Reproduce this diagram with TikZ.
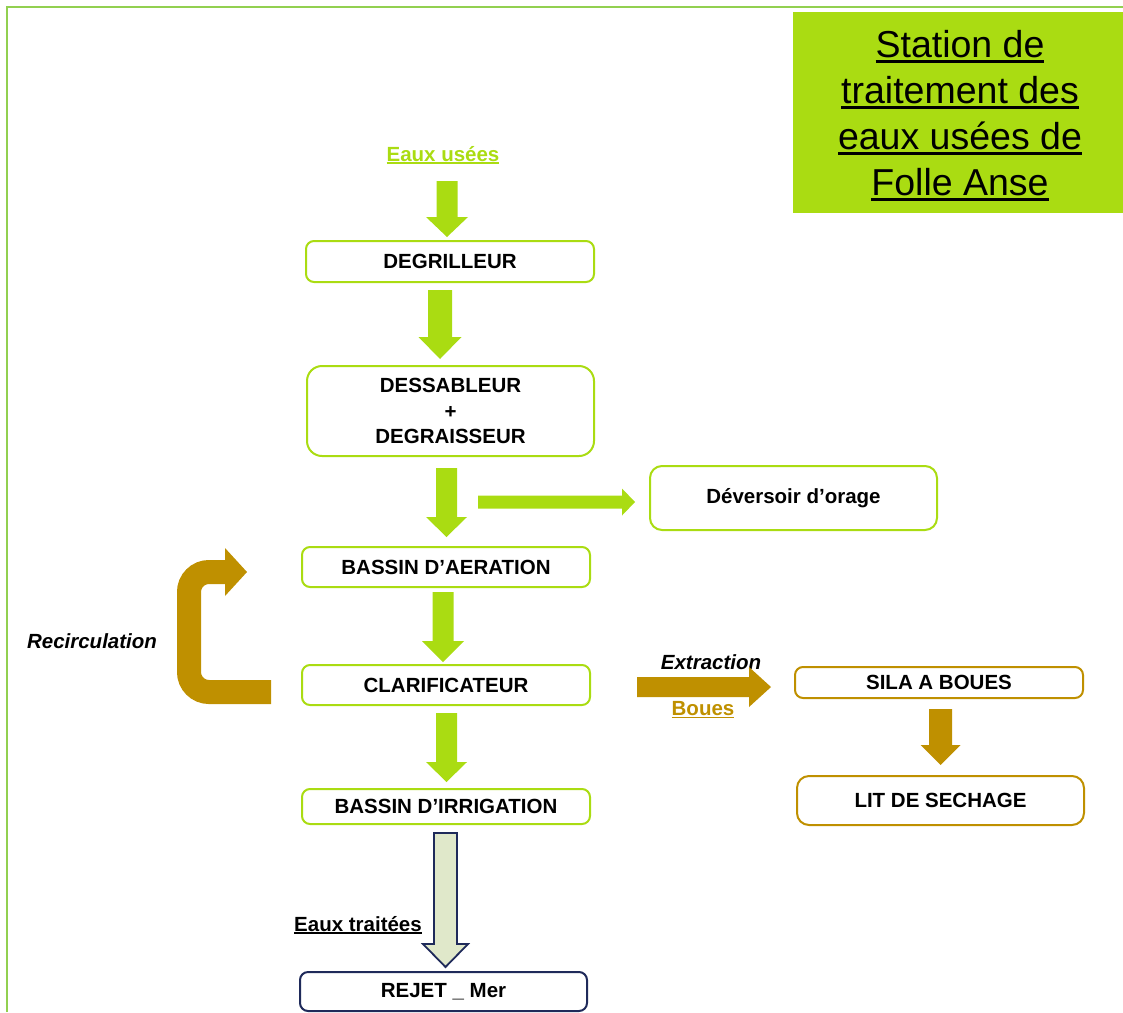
\documentclass[tikz,border=0pt]{standalone}
\usepackage{fontspec}
\setmainfont{Liberation Sans}
\usetikzlibrary{calc}
\definecolor{lime}{RGB}{170,220,18}
\definecolor{framegreen}{RGB}{146,208,80}
\definecolor{gold}{RGB}{191,144,0}
\definecolor{navy}{RGB}{31,42,90}
\definecolor{pale}{RGB}{224,232,202}
\newcommand\myul[1]{\setbox0=\hbox{#1}\rlap{\rule[-0.13em]{\wd0}{0.07em}}\box0}
\newcommand\dnblock[6][]{%
  \path[#1] let \p1=(#2), \p2=(#3) in
  (\x1-#4,\y1) -- (\x1+#4,\y1) -- (\x1+#4,\y2+#6) -- (\x1+#5,\y2+#6) -- (\x1,\y2)
  -- (\x1-#5,\y2+#6) -- (\x1-#4,\y2+#6) -- cycle;}
\newcommand\rtblock[6][]{%
  \path[#1] let \p1=(#2), \p2=(#3) in
  (\x1,\y1+#4) -- (\x2-#6,\y1+#4) -- (\x2-#6,\y1+#5) -- (\x2,\y1) -- (\x2-#6,\y1-#5)
  -- (\x2-#6,\y1-#4) -- (\x1,\y1-#4) -- cycle;}
\begin{document}
\begin{tikzpicture}[x=1pt,y=-1pt,
  boxtext/.style={font=\bfseries\fontsize{20.5}{25.5}\selectfont, align=center},
  box/.style={boxtext, draw=lime, line width=2pt, rounded corners=8pt, fill=white, inner sep=0pt},
  goldbox/.style={box, draw=gold},
  navybox/.style={box, draw=navy},
  lbl/.style={font=\bfseries\fontsize{20.5}{25}\selectfont, inner sep=0pt},
  ilbl/.style={font=\bfseries\itshape\fontsize{20.5}{25}\selectfont, inner sep=0pt},
  limearrow/.style={fill=lime},
  goldarrow/.style={fill=gold},
  palearrow/.style={fill=pale, draw=navy, line width=1.8pt, line join=miter}]
\useasboundingbox (0,0) rectangle (1123,1012);
\draw[framegreen, line width=1.5pt] (7,1012) -- (7,7) -- (1123,7);

% title
\node[fill=lime, minimum width=330pt, minimum height=201pt, inner sep=0pt] (title) at (958,112.5) {};
\node[align=center, inner sep=0pt, font=\fontsize{37.5}{46}\selectfont] (titletext)
  at ($(title.center)+(2,3)$)
  {\myul{Station de}\\\myul{traitement des}\\\myul{eaux usées de}\\\myul{Folle Anse}};

% nodes
\node[box, minimum width=288pt, minimum height=41pt] (deg) at (450,261.5) {DEGRILLEUR};
\node[box, rounded corners=15pt, minimum width=287pt, minimum height=90pt] (dess) at (450.5,411) {DESSABLEUR\\+\\DEGRAISSEUR};
\node[box, rounded corners=12pt, minimum width=287pt, minimum height=64pt] (dev) at (793.5,498) {Déversoir d’orage};
\node[box, minimum width=288pt, minimum height=40pt] (aer) at (446,567) {BASSIN D’AERATION};
\node[box, minimum width=288pt, minimum height=40pt] (clar) at (446,685) {CLARIFICATEUR};
\node[box, minimum width=288pt, minimum height=35pt] (irr) at (446,806.5) {BASSIN D’IRRIGATION};
\node[navybox, minimum width=287pt, minimum height=39pt] (rejet) at (443.5,991.5) {REJET \_ Mer};
\node[goldbox, minimum width=288pt, minimum height=31pt] (sila) at (939,682.5) {SILA A BOUES};
\node[goldbox, rounded corners=12pt, minimum width=287pt, minimum height=49pt] (lit) at (940.5,800.5) {LIT DE SECHAGE};

% labels
\node[lbl, text=lime] (eaux) at (443,155) {\myul{Eaux usées}};
\node[ilbl] (recl) at (92,641) {Recirculation};
\node[ilbl] (extl) at (711,662) {Extraction};
\node[lbl, text=gold] (boues) at (703,710) {\myul{Boues}};
\node[lbl] (trait) at (358,925) {\myul{Eaux traitées}};

% arrow end points
\coordinate (a1s) at ($(deg.north)+(-3,-59)$);
\coordinate (a1e) at ($(deg.north)+(-3,-3)$);
\coordinate (a2s) at ($(deg.south)+(-10,7)$);
\coordinate (a2e) at ($(dess.north)+(-10.5,-6)$);
\coordinate (a3s) at ($(dess.south)+(-4,11)$);
\coordinate (a3e) at ($(aer.north)+(0.5,-9)$);
\coordinate (dvs) at ($(dess.south)+(27.5,45)$);
\coordinate (dve) at ($(dev.west)+(-14,3)$);
\coordinate (a4s) at ($(aer.south)+(-3,4)$);
\coordinate (a4e) at ($(clar.north)+(-3,-2)$);
\coordinate (a5s) at ($(clar.south)+(0.5,7)$);
\coordinate (a5e) at ($(irr.north)+(0.5,-6)$);
\coordinate (a6s) at ($(irr.south)+(-0.5,8)$);
\coordinate (a6e) at ($(rejet.north)+(2,-4)$);
\coordinate (exs) at ($(clar.east)+(46,2)$);
\coordinate (exe) at ($(sila.west)+(-23,4.5)$);
\coordinate (gds) at ($(sila.south)+(1.5,10)$);
\coordinate (gde) at ($(lit.north)+(0,-10)$);

\dnblock[limearrow]{a1s}{a1e}{10.5pt}{21pt}{20pt}
\dnblock[limearrow]{a2s}{a2e}{12pt}{21.5pt}{22pt}
\dnblock[limearrow]{a3s}{a3e}{10.5pt}{20.5pt}{20pt}
\rtblock[limearrow]{dvs}{dve}{6.5pt}{13.5pt}{13pt}
\dnblock[limearrow]{a4s}{a4e}{10.5pt}{21pt}{21pt}
\dnblock[limearrow]{a5s}{a5e}{10.5pt}{20.5pt}{20pt}
\dnblock[palearrow]{a6s}{a6e}{11.5pt}{22.5pt}{23pt}
\rtblock[goldarrow]{exs}{exe}{10pt}{20pt}{22pt}
\dnblock[goldarrow]{gds}{gde}{11.5pt}{20pt}{20pt}

% recirculation
\coordinate (r0) at ($(clar.west)+(-30,7)$);
\coordinate (r1) at ($(clar.west)+(-112,7)$);
\coordinate (r2) at ($(aer.west)+(-112,5)$);
\coordinate (r3) at ($(aer.west)+(-76,5)$);
\coordinate (r4) at ($(aer.west)+(-54,5)$);
\draw[gold, line width=24pt, rounded corners=20pt] (r0) -- (r1) -- (r2) -- (r3);
\fill[gold] ($(r3)+(0,-24)$) -- (r4) -- ($(r3)+(0,24)$) -- cycle;
\end{tikzpicture}
\end{document}
